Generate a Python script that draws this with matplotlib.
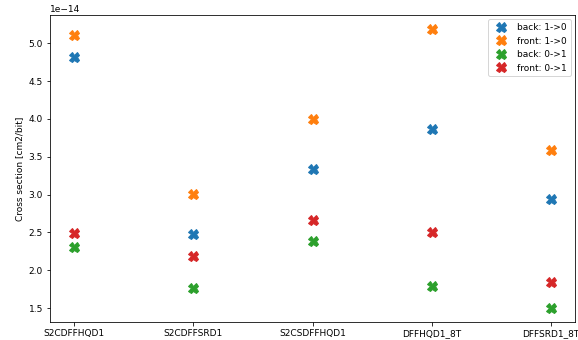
import numpy as np
import matplotlib
matplotlib.use('Agg')
import matplotlib.pyplot as plt

cells = ['S2CDFFHQD1', 'S2CDFFSRD1', 'S2CSDFFHQD1', 'DFFHQD1_8T', 'DFFSRD1_8T']

# cross sections, units of 1e-14 cm2/bit
back_10 = [4.82, 2.48, 3.34, 3.87, 2.94]
front_10 = [5.11, 3.01, 4.00, 5.19, 3.59]
back_01 = [2.31, 1.77, 2.39, 1.79, 1.50]
front_01 = [2.49, 2.19, 2.66, 2.50, 1.85]

series = [
    ('back: 1->0', back_10),
    ('front: 1->0', front_10),
    ('back: 0->1', back_01),
    ('front: 0->1', front_01),
]

plt.rcParams['font.size'] = 9

dpi = 72
fig = plt.figure(figsize=(578 / dpi, 340 / dpi), dpi=dpi)
ax = fig.add_axes([50 / 578, 18 / 340, 525 / 578, 307 / 340])

for label, vals in series:
    ax.plot(cells, np.array(vals) * 1e-14, 'X', markersize=10, label=label)

ax.set_ylabel('Cross section [cm2/bit]')
ax.legend(loc='upper right')

fig.savefig('out.png', dpi=dpi)
